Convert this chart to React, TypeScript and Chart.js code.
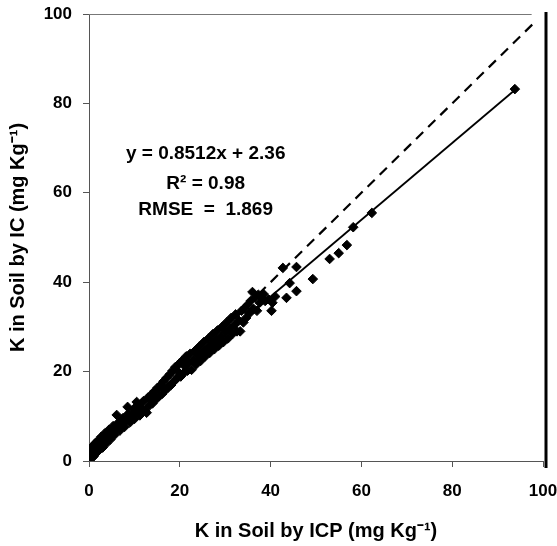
import React, { useEffect, useRef } from "react";
import { Chart, registerables } from "chart.js";

Chart.register(...registerables);

// Measured data: K by ICP (x) vs K by IC (y), mg/kg
const icpValues = [
  0.2, 0.4, 0.5, 0.7, 0.9, 1.0, 1.2, 1.4, 1.6, 1.8, 2.0, 2.2, 2.5, 2.7, 3.0, 3.3, 3.5, 3.8, 4.1, 4.4, 4.7, 5.0,
  5.3, 5.6, 6.0, 6.1, 6.5, 6.8, 7.2, 7.5, 7.8, 8.2, 8.5, 8.7, 9.0, 9.4, 9.8, 10.0, 10.5,
  10.4, 10.8, 11.2, 11.6, 12.0, 12.4, 12.7, 13.0, 13.3, 13.7, 14.0, 14.4, 14.8, 15.1,
  15.5, 15.8, 16.1, 16.4, 16.8, 17.1, 17.4, 17.8, 18.1, 18.4, 18.7, 19.0, 19.3, 19.6, 19.9, 20.2,
  20.5, 20.8, 21.1, 21.4, 21.7, 22.0, 22.3, 22.6, 23.0, 23.3, 23.6, 24.0, 24.3, 24.6, 25.0,
  25.3, 25.6, 26.0, 26.3, 26.6, 27.0, 27.3, 27.6, 28.0, 28.3, 28.6, 29.0, 29.3, 29.6, 30.0,
  30.3, 30.6, 31.0, 31.3, 31.6, 32.0, 32.3, 32.6, 33.0, 33.3, 33.6, 34.0, 34.3, 34.6, 35.0,
  35.3, 35.6, 36.0, 36.3, 36.6, 37.0, 37.3, 37.6, 38.0, 38.4, 38.8, 39.5, 40.4, 40.2, 41.0,
  42.7, 45.7, 44.2, 45.7, 43.5, 49.3, 53.0, 55.0, 56.8, 58.2, 62.3, 93.8,
];
const icValues = [
  1.5, 2.8, 0.6, 2.0, 3.4, 1.0, 2.6, 4.0, 1.8, 3.2, 4.6, 2.4, 3.8, 5.4, 3.0, 4.6, 6.2, 3.9, 5.4, 7.0, 4.8, 6.4,
  7.8, 5.8, 7.2, 10.3, 8.6, 6.8, 8.2, 9.6, 7.6, 9.2, 12.1, 10.6, 8.6, 10.2, 11.6, 9.4, 13.2,
  11.0, 12.6, 10.2, 11.8, 13.4, 11.2, 10.8, 14.2, 12.4, 14.8, 12.9, 15.6, 13.8, 16.4,
  14.6, 17.0, 15.0, 17.8, 15.8, 18.6, 16.4, 19.4, 17.0, 20.2, 17.8, 21.0, 18.4, 20.0, 21.8, 18.9,
  22.4, 19.6, 21.2, 23.4, 20.2, 22.0, 24.0, 20.4, 22.6, 24.6, 21.6, 23.6, 25.6, 22.4, 24.4,
  26.6, 23.4, 25.2, 27.4, 24.2, 26.2, 28.4, 25.0, 27.0, 29.2, 25.8, 27.8, 30.0, 26.6, 28.8,
  31.0, 27.4, 29.6, 32.0, 28.4, 30.4, 32.8, 29.0, 31.4, 29.0, 33.6, 31.0, 34.2, 32.0, 35.0,
  33.0, 35.8, 37.8, 34.0, 36.6, 33.6, 37.2, 35.4, 36.6, 37.4, 35.8, 36.2, 35.4, 33.6, 36.8,
  43.2, 43.4, 39.8, 38.0, 36.5, 40.7, 45.2, 46.5, 48.3, 52.3, 55.5, 83.2,
];

// Fitted line and 1:1 reference line
const fitLineX = [0, 93.8];
const fitLineY = [2.4, 83.0];
const oneToOneX = [0, 98];
const oneToOneY = [0, 98];

const axisTicks = [0, 20, 40, 60, 80, 100];
const xTitle = "K in Soil by ICP (mg Kg\u207B\u00B9)";
const yTitle = "K in Soil by IC (mg Kg\u207B\u00B9)";
const annotationLines = ["y = 0.8512x + 2.36", "R\u00B2 = 0.98", "RMSE  =  1.869"];
const annotationX = 25.7;
const annotationY = [68.7, 62.0, 56.2];

const FONT = "'Liberation Sans', Arial, sans-serif";

export default function App() {
  const ref = useRef<HTMLCanvasElement | null>(null);

  useEffect(() => {
    document.body.style.margin = "0";
    const canvas = ref.current;
    if (!canvas) return;

    const scatterPts = icpValues.map((x, i) => ({ x, y: icValues[i] }));
    const fitPts = fitLineX.map((x, i) => ({ x, y: fitLineY[i] }));
    const refPts = oneToOneX.map((x, i) => ({ x, y: oneToOneY[i] }));

    const decor = {
      id: "decor",
      afterDatasetsDraw(chart: any) {
        const { ctx, chartArea, scales } = chart;
        ctx.save();
        ctx.strokeStyle = "#777";
        ctx.lineWidth = 1;
        ctx.beginPath();
        ctx.moveTo(chartArea.left, chartArea.top + 0.5);
        ctx.lineTo(scales.x.getPixelForValue(97.5), chartArea.top + 0.5);
        ctx.stroke();
        ctx.strokeStyle = "#000";
        ctx.lineWidth = 3;
        ctx.beginPath();
        ctx.moveTo(chartArea.right + 3, chartArea.top - 2);
        ctx.lineTo(chartArea.right + 3, chartArea.bottom + 7);
        ctx.stroke();
        ctx.fillStyle = "#000";
        ctx.font = `bold 19px ${FONT}`;
        ctx.textAlign = "center";
        ctx.textBaseline = "middle";
        annotationLines.forEach((t, i) => {
          ctx.fillText(t, scales.x.getPixelForValue(annotationX), scales.y.getPixelForValue(annotationY[i]));
        });
        ctx.restore();
      },
    };

    const chart = new Chart(canvas, {
      type: "scatter",
      data: {
        datasets: [
          {
            label: "data",
            data: scatterPts,
            pointStyle: "rectRot",
            pointRadius: 4.8,
            pointBorderWidth: 1,
            backgroundColor: "#000",
            borderColor: "#000",
            order: 1,
          },
          {
            label: "fit",
            data: fitPts,
            showLine: true,
            borderColor: "#000",
            borderWidth: 1.8,
            pointRadius: 0,
            order: 2,
          },
          {
            label: "1:1",
            data: refPts,
            showLine: true,
            borderColor: "#000",
            borderWidth: 2.2,
            borderDash: [10, 7],
            pointRadius: 0,
            order: 3,
          },
        ] as any,
      },
      options: {
        animation: false,
        responsive: false,
        layout: { padding: { top: 14, right: 14, left: 0, bottom: 0 } },
        plugins: { legend: { display: false }, tooltip: { enabled: false } },
        scales: {
          x: {
            type: "linear",
            min: 0,
            max: 100,
            afterFit: (s: any) => { s.height = 85; s.paddingLeft = 0; s.paddingRight = 0; },
            afterBuildTicks: (s: any) => { s.ticks = axisTicks.map((v) => ({ value: v })); },
            ticks: { color: "#000", font: { family: FONT, size: 17, weight: "bold" }, padding: 14, maxRotation: 0 },
            grid: { drawOnChartArea: false, drawTicks: true, tickLength: 6, color: "#555" },
            border: { display: true, color: "#555", width: 1 },
            title: { display: true, text: xTitle, color: "#000", font: { family: FONT, size: 20, weight: "bold" }, padding: { top: 0, bottom: 3 } },
          },
          y: {
            type: "linear",
            min: 0,
            max: 100,
            afterFit: (s: any) => { s.width = 89; s.paddingTop = 0; s.paddingBottom = 0; },
            afterBuildTicks: (s: any) => { s.ticks = axisTicks.map((v) => ({ value: v })); },
            ticks: { color: "#000", font: { family: FONT, size: 17, weight: "bold" }, padding: 11 },
            grid: { drawOnChartArea: false, drawTicks: true, tickLength: 6, color: "#555" },
            border: { display: true, color: "#555", width: 1 },
            title: { display: true, text: yTitle, color: "#000", font: { family: FONT, size: 20, weight: "bold" }, padding: { top: 6, bottom: 0 } },
          },
        },
      } as any,
      plugins: [decor],
    });

    return () => chart.destroy();
  }, []);

  return (
    <div style={{ width: 557, height: 546 }}>
      <canvas ref={ref} width={557} height={546} style={{ display: "block", width: 557, height: 546 }} />
    </div>
  );
}
